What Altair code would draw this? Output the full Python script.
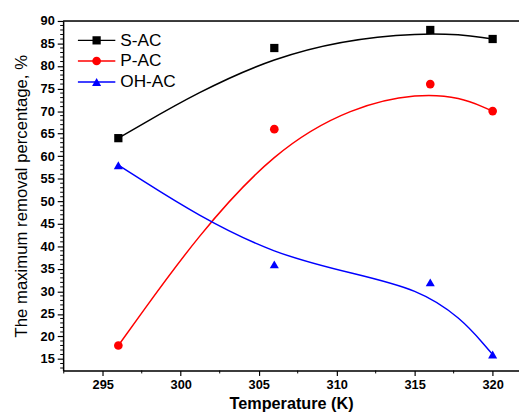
import altair as alt
import pandas as pd

temperature = [296, 306, 316, 320]
s_ac = [64, 84, 88, 86]
p_ac = [18, 66, 76, 70]
oh_ac = [58, 36, 32, 16]
series_names = ["S-AC", "P-AC", "OH-AC"]
series_colors = ["#000000", "#ff0000", "#0000ff"]
series_shapes = ["square", "circle", "triangle-up"]
series_sizes = [70, 85, 130]
x_ticks = [295, 300, 305, 310, 315, 320]
x_minor = [292.5, 297.5, 302.5, 307.5, 312.5, 317.5]
y_ticks = list(range(15, 95, 5))
y_minor = [v for v in range(13, 91) if v % 5 != 0]

rows = []
for name, vals in zip(series_names, [s_ac, p_ac, oh_ac]):
    for t, v in zip(temperature, vals):
        rows.append({"T": t, "v": v, "series": name})
df = pd.DataFrame(rows)

W, H = 463, 355
xscale = alt.Scale(domain=[292.46, 321.69], nice=False, zero=False)
yscale = alt.Scale(domain=[12.45, 90], nice=False, zero=False)
color = alt.Color("series:N", scale=alt.Scale(domain=series_names, range=series_colors), legend=None)
shape = alt.Shape("series:N", scale=alt.Scale(domain=series_names, range=series_shapes), legend=None)
size = alt.Size("series:N", scale=alt.Scale(domain=series_names, range=series_sizes), legend=None)

xaxis = alt.Axis(values=x_ticks, title="Temperature (K)", grid=False, domainColor="black",
                 domainWidth=1.5, tickColor="black", tickSize=5, tickWidth=1.2,
                 labelFont="Liberation Sans", labelFontSize=13, labelFontWeight="bold",
                 labelColor="black", labelPadding=3, labelFlush=False, labelOverlap=False,
                 titleFont="Liberation Sans", titleFontSize=16.5, titleFontWeight="bold",
                 titleColor="black", titlePadding=5)
yaxis = alt.Axis(values=y_ticks, title="The maximum removal percentage, %", grid=False,
                 domainColor="black", domainWidth=1.5, tickColor="black", tickSize=6,
                 tickWidth=1.2, labelFont="Liberation Sans", labelFontSize=13,
                 labelFontWeight="bold", labelColor="black", labelPadding=3, labelFlush=False,
                 labelOverlap=False, labelBound=False,
                 titleFont="Liberation Sans", titleFontSize=17, titleFontWeight="normal",
                 titleColor="black", titlePadding=10)

base = alt.Chart(df)
lines = base.mark_line(interpolate="basis", strokeWidth=1.5).encode(
    x=alt.X("T:Q", scale=xscale, axis=xaxis),
    y=alt.Y("v:Q", scale=yscale, axis=yaxis),
    color=color, detail="series:N")
points = base.mark_point(filled=True, opacity=1).encode(
    x=alt.X("T:Q", scale=xscale, axis=xaxis), y=alt.Y("v:Q", scale=yscale, axis=yaxis),
    color=color, shape=shape, size=size)

xm = alt.Chart(pd.DataFrame({"m": x_minor})).mark_rule(color="black", strokeWidth=1).encode(
    x=alt.X("m:Q", scale=xscale, axis=xaxis), y=alt.value(H), y2=alt.value(H + 3))
ym = alt.Chart(pd.DataFrame({"m": y_minor})).mark_rule(color="black", strokeWidth=1).encode(
    y=alt.Y("m:Q", scale=yscale, axis=yaxis), x=alt.value(0), x2=alt.value(-3))
top = alt.Chart(pd.DataFrame({"a": [0]})).mark_rule(color="black", strokeWidth=1.5).encode(
    x=alt.value(0), x2=alt.value(W), y=alt.value(0))

leg = pd.DataFrame({"series": series_names})
leg_rows_y = [19.7, 40.7, 62]
leg_layers = []
for name, ry in zip(series_names, leg_rows_y):
    sub = alt.Chart(leg).transform_filter(alt.datum.series == name)
    leg_layers.append(sub.mark_rule(strokeWidth=1.5).encode(
        y=alt.value(ry), x=alt.value(15), x2=alt.value(53), color=color))
    leg_layers.append(sub.mark_point(filled=True, opacity=1).encode(
        y=alt.value(ry), x=alt.value(34), color=color, shape=shape, size=size))
    leg_layers.append(sub.mark_text(align="left", baseline="middle", font="Liberation Sans",
                                    fontSize=17.5, color="black").encode(
        y=alt.value(ry + 0.5), x=alt.value(58), text="series:N"))

chart = alt.layer(lines, points, xm, ym, top, *leg_layers).properties(
    width=W, height=H, autosize=alt.AutoSizeParams(type="none"),
    padding={"left": 56, "top": 10, "right": 0, "bottom": 40}
).configure_view(stroke=None).configure(background="white")

chart.save("out.html", embed_options={"renderer": "svg", "actions": False})
